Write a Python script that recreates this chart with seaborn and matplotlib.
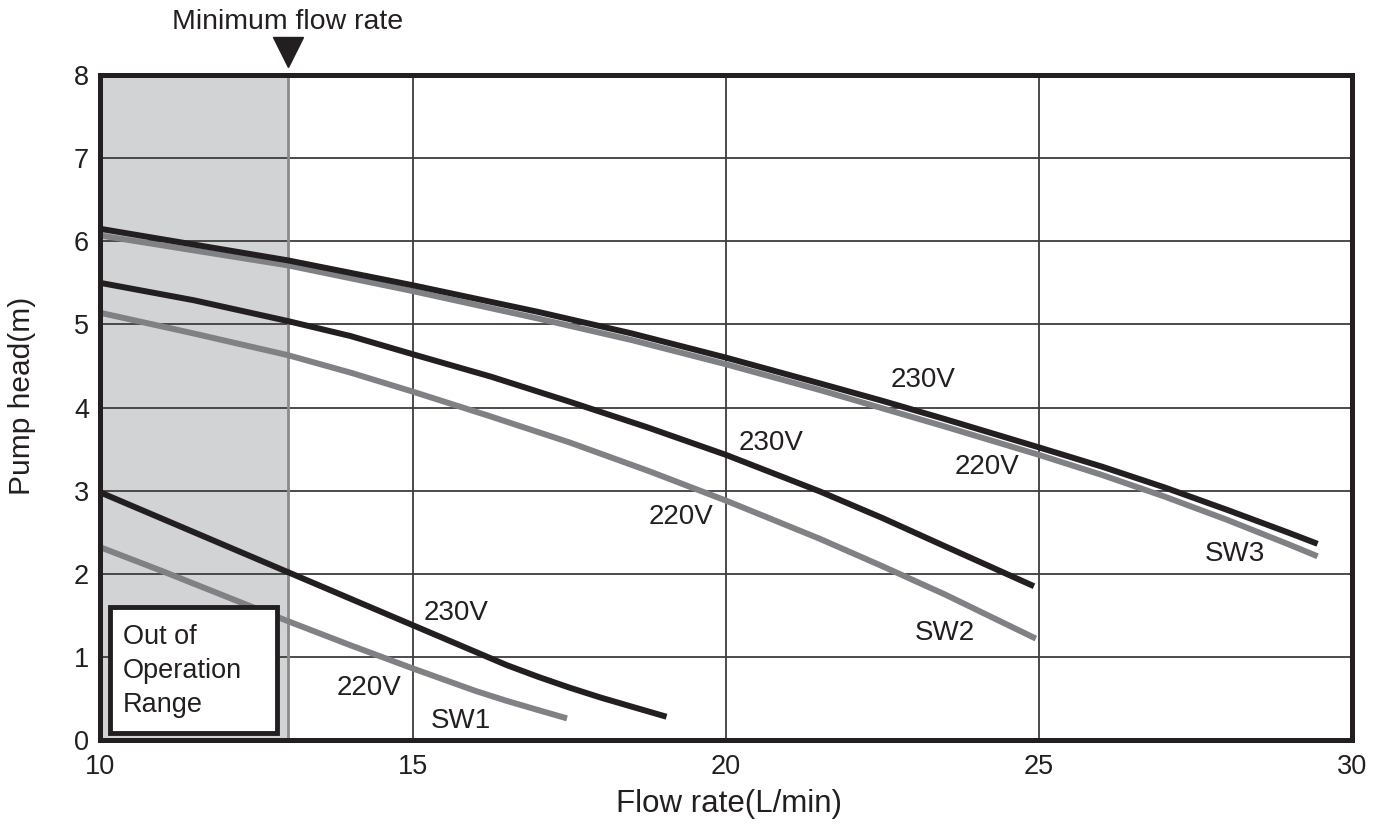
import matplotlib
matplotlib.use("Agg")
import matplotlib.pyplot as plt
import seaborn as sns
import pandas as pd
from matplotlib.patches import Rectangle

# ---------------- data ----------------
sw3_230_x = [10, 13, 15, 17, 18.5, 20, 21.5, 22.5, 23.5, 25, 26, 27, 28, 29, 29.45]
sw3_230_y = [6.15, 5.77, 5.47, 5.15, 4.89, 4.60, 4.29, 4.08, 3.86, 3.52, 3.29, 3.04, 2.77, 2.49, 2.36]
sw3_220_x = [10, 13, 15, 17, 18.5, 20, 21.5, 22.5, 23.5, 25, 26, 27, 28, 29, 29.45]
sw3_220_y = [6.07, 5.71, 5.40, 5.07, 4.81, 4.52, 4.21, 3.99, 3.77, 3.43, 3.19, 2.93, 2.65, 2.35, 2.21]

sw2_230_x = [10, 11.5, 13, 14, 15, 16.25, 17.5, 18.75, 20, 21.5, 22.5, 23.5, 24.92]
sw2_230_y = [5.50, 5.29, 5.04, 4.86, 4.64, 4.37, 4.07, 3.76, 3.43, 2.99, 2.67, 2.33, 1.85]
sw2_220_x = [10, 11.5, 13, 14, 15, 16.25, 17.5, 18.75, 20, 21.5, 22.5, 23.5, 24.95]
sw2_220_y = [5.14, 4.89, 4.63, 4.42, 4.19, 3.89, 3.58, 3.24, 2.88, 2.42, 2.09, 1.75, 1.22]

sw1_230_x = [10, 11, 12, 13, 14, 15, 16, 16.5, 17, 17.5, 18, 18.5, 19.05]
sw1_230_y = [2.98, 2.66, 2.34, 2.02, 1.70, 1.38, 1.06, 0.90, 0.76, 0.63, 0.51, 0.40, 0.28]
sw1_220_x = [10, 11, 12, 13, 14, 15, 16, 16.5, 17, 17.46]
sw1_220_y = [2.32, 2.03, 1.73, 1.43, 1.14, 0.86, 0.59, 0.47, 0.36, 0.26]

x_ticks = [10, 15, 20, 25, 30]
y_ticks = [0, 1, 2, 3, 4, 5, 6, 7, 8]
min_flow = 13

labels = ["230V", "220V", "SW1", "230V", "220V", "SW2", "230V", "220V", "SW3"]
label_x = [15.69, 14.29, 15.77, 20.72, 19.28, 23.49, 23.15, 24.17, 28.13]
label_y = [1.53, 0.63, 0.23, 3.57, 2.68, 1.29, 4.33, 3.28, 2.24]

BLACK = "#231f20"
GRAY = "#808184"
SHADE = "#d1d3d4"

series = [
    ("SW1 230V", sw1_230_x, sw1_230_y, BLACK),
    ("SW1 220V", sw1_220_x, sw1_220_y, GRAY),
    ("SW2 220V", sw2_220_x, sw2_220_y, GRAY),
    ("SW2 230V", sw2_230_x, sw2_230_y, BLACK),
    ("SW3 220V", sw3_220_x, sw3_220_y, GRAY),
    ("SW3 230V", sw3_230_x, sw3_230_y, BLACK),
]

# ---------------- figure ----------------
sns.set_theme(style="white")
plt.rcParams["font.family"] = ["Liberation Sans", "DejaVu Sans"]
plt.rcParams["text.color"] = BLACK

fig = plt.figure(figsize=(13.84, 8.34), dpi=100)
ax = fig.add_axes([100 / 1384, 1 - 740 / 834, 1252 / 1384, 665 / 834])

# shaded out-of-range area and minimum-flow line
ax.axvspan(10, min_flow, color=SHADE, zorder=0, lw=0)
ax.axvline(min_flow, color="#8a8b8d", lw=2.0, zorder=1.5)

for name, xs, ys, col in series:
    df = pd.DataFrame({"x": xs, "y": ys})
    sns.lineplot(data=df, x="x", y="y", ax=ax, color=col, lw=4.3,
                 solid_capstyle="butt", solid_joinstyle="round", zorder=3,
                 legend=False, estimator=None, sort=False)

for t, lx, ly in zip(labels, label_x, label_y):
    ax.text(lx, ly, t, ha="center", va="center", fontsize=20, color=BLACK, zorder=4)

# out of operation range box
ax.add_patch(Rectangle((10.16, 0.085), 2.67, 1.515, facecolor="white",
                       edgecolor=BLACK, lw=3.5, zorder=4))
ax.text(10.37, 0.83, "Out of\nOperation\nRange", ha="left", va="center",
        fontsize=19.5, linespacing=1.4, color=BLACK, zorder=5)

# minimum flow marker above the plot
ax.plot([min_flow], [8.28], marker="v", ms=21, color=BLACK, clip_on=False, zorder=6)
ax.text(min_flow, 8.64, "Minimum flow rate", ha="center", va="center",
        fontsize=20.5, color=BLACK, clip_on=False)

ax.set_xlim(10, 30)
ax.set_ylim(0, 8)
ax.set_xticks(x_ticks)
ax.set_yticks(y_ticks)
ax.set_xticklabels([str(v) for v in x_ticks])
ax.set_yticklabels([str(v) for v in y_ticks])
ax.tick_params(axis="both", length=0, labelsize=19.5, colors=BLACK)
ax.tick_params(axis="x", pad=10)
ax.tick_params(axis="y", pad=8)

ax.grid(True, color="#3d3d3d", lw=1.3, zorder=1)
ax.set_axisbelow(True)

for s in ax.spines.values():
    s.set_visible(True)
    s.set_color(BLACK)
    s.set_linewidth(3.6)
    s.set_zorder(7)

ax.set_xlabel("Flow rate(L/min)", fontsize=22.5, color=BLACK, va="center")
ax.set_ylabel("Pump head(m)", fontsize=21.5, color=BLACK, va="center")
ax.xaxis.set_label_coords(0.502, (740 - 804) / 665)
ax.yaxis.set_label_coords((22 - 100) / 1252, (740 - 396) / 665)

fig.savefig("out.png", dpi=100, facecolor="white")
